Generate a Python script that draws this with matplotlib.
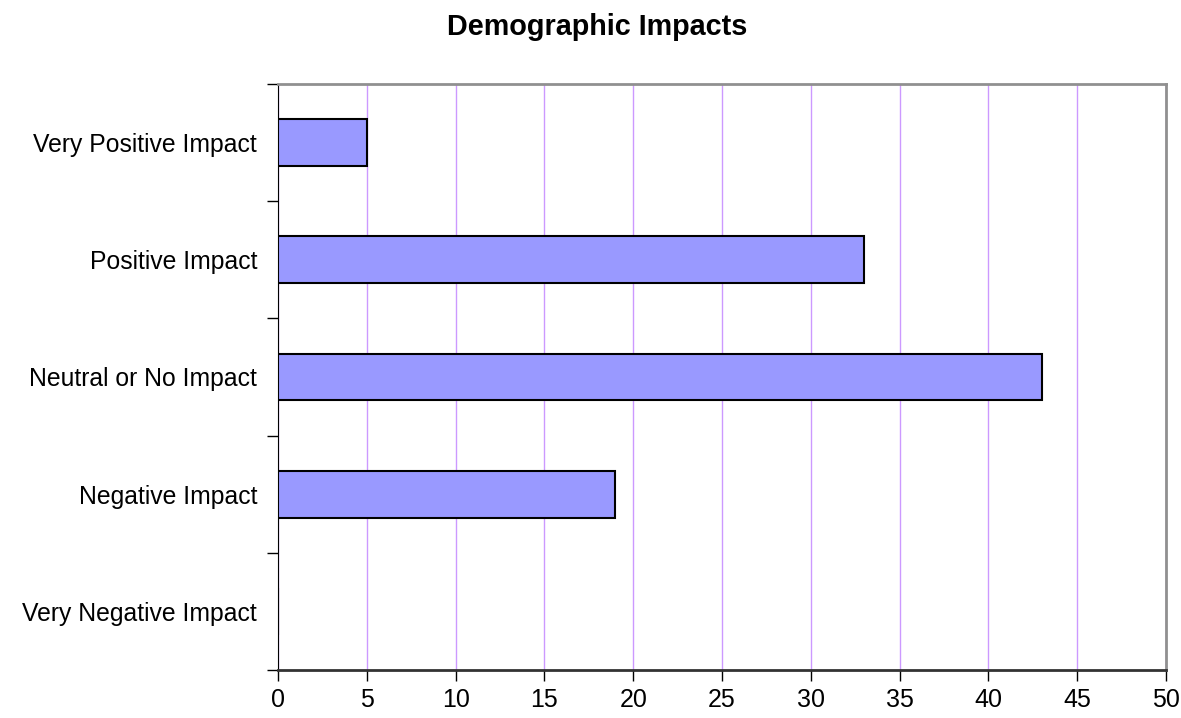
import matplotlib.pyplot as plt

plt.rcParams['font.family'] = ['Liberation Sans', 'DejaVu Sans']

# survey responses, bottom to top
categories = ['Very Negative Impact', 'Negative Impact', 'Neutral or No Impact',
              'Positive Impact', 'Very Positive Impact']
counts = [0, 19, 43, 33, 5]

fig = plt.figure(figsize=(11.81, 7.18), dpi=100)
ax = fig.add_axes([0.2354, 0.0669, 0.9873 - 0.2354, 0.883 - 0.0669])

pos = range(len(categories))
ax.barh(pos, counts, height=0.4, color='#9999FF', edgecolor='black', linewidth=1.5, zorder=3)

ax.set_xlim(0, 50)
ax.set_ylim(-0.5, len(categories) - 0.5)
ax.set_xticks(range(0, 51, 5))
# category boundaries get the tick marks, labels sit between them
ax.set_yticks([p - 0.5 for p in range(len(categories) + 1)], minor=False)
ax.set_yticklabels([])
ax.set_yticks(list(pos), minor=True)
ax.set_yticklabels(categories, minor=True)
ax.tick_params(axis='y', which='minor', length=0, pad=15, labelsize=17.8)
ax.tick_params(axis='y', which='major', length=8, width=1, direction='out')
ax.tick_params(axis='x', length=8, width=1, direction='out', labelsize=18, pad=5)

ax.xaxis.grid(True, color='#CC99FF', linewidth=1, zorder=0)

for side in ['top', 'right']:
    ax.spines[side].set_color('#909090')
    ax.spines[side].set_linewidth(2)
ax.spines['left'].set_color('black')
ax.spines['bottom'].set_color('#333333')
ax.spines['bottom'].set_linewidth(2)

fig.text(0.5055, 0.963, 'Demographic Impacts', ha='center', va='center',
         fontsize=20.7, fontweight='bold')

fig.savefig('out.png', dpi=100)
